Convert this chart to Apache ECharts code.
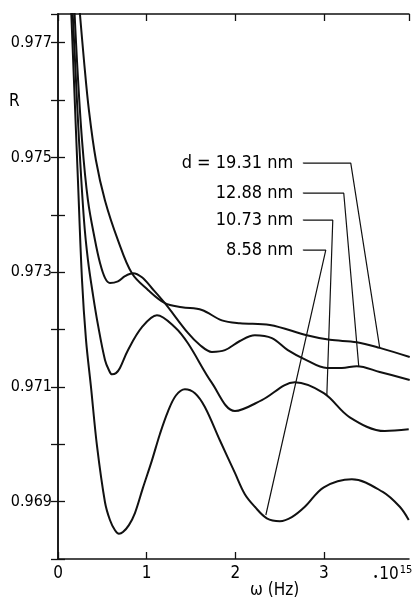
<!DOCTYPE html>
<html>
<head>
<meta charset="utf-8">
<script src="https://cdn.jsdelivr.net/npm/echarts@6/dist/echarts.min.js"></script>
<style>
html,body{margin:0;padding:0;background:#fff;}
#c{width:415px;height:603px;}
</style>
</head>
<body>
<div id="c"></div>
<script>
// ---- data (ω in 10^15 Hz, reflectance R) ----
var omega_858 = [0.135,0.180,0.225,0.271,0.316,0.372,0.440,0.530,0.586,0.643,0.688,0.733,0.800,0.868,0.958,1.060,1.150,1.240,1.330,1.432,1.545,1.657,1.826,1.996,2.108,2.221,2.356,2.503,2.638,2.785,2.999,3.315,3.664,3.856,3.957];
var r_858     = [0.97809,0.97634,0.97460,0.97286,0.97182,0.97100,0.96997,0.96899,0.96868,0.96850,0.96844,0.96847,0.96859,0.96880,0.96924,0.96972,0.97018,0.97057,0.97085,0.97096,0.97089,0.97065,0.97007,0.96950,0.96913,0.96891,0.96871,0.96866,0.96873,0.96891,0.96925,0.96939,0.96917,0.96891,0.96868];

var omega_1073 = [0.147,0.192,0.237,0.293,0.338,0.395,0.451,0.530,0.575,0.609,0.654,0.699,0.789,0.947,1.116,1.319,1.466,1.736,1.996,2.300,2.672,2.999,3.292,3.687,3.957];
var r_1073     = [0.97809,0.97669,0.97530,0.97391,0.97321,0.97260,0.97208,0.97147,0.97129,0.97122,0.97124,0.97133,0.97164,0.97204,0.97225,0.97204,0.97176,0.97107,0.97058,0.97077,0.97108,0.97089,0.97047,0.97023,0.97026];

var omega_1288 = [0.169,0.214,0.271,0.338,0.417,0.474,0.530,0.586,0.676,0.755,0.846,0.947,1.060,1.206,1.466,1.601,1.736,1.883,2.052,2.221,2.413,2.593,2.785,3.033,3.202,3.371,3.630,3.968];
var r_1288     = [0.97809,0.97669,0.97530,0.97425,0.97356,0.97316,0.97290,0.97281,0.97284,0.97293,0.97298,0.97291,0.97272,0.97246,0.97194,0.97173,0.97161,0.97164,0.97180,0.97190,0.97185,0.97164,0.97148,0.97133,0.97133,0.97136,0.97126,0.97112];

var omega_1931 = [0.214,0.248,0.293,0.349,0.428,0.530,0.676,0.834,1.015,1.206,1.398,1.623,1.849,2.052,2.390,2.807,3.067,3.371,3.630,3.968];
var r_1931     = [0.97809,0.97749,0.97669,0.97582,0.97495,0.97425,0.97356,0.97298,0.97269,0.97246,0.97239,0.97234,0.97216,0.97211,0.97208,0.97190,0.97182,0.97178,0.97168,0.97152];

// leader lines: label anchor -> corner -> point on curve
var labels = ['d = 19.31 nm','12.88 nm','10.73 nm','8.58 nm'];
var leader_1931_x = [2.762,3.303,3.630], leader_1931_r = [0.974899,0.974899,0.971676];
var leader_1288_x = [2.762,3.224,3.393], leader_1288_r = [0.974376,0.974376,0.971362];
var leader_1073_x = [2.762,3.100,3.033], leader_1073_r = [0.973906,0.973906,0.970857];
var leader_858_x  = [2.762,3.021,2.345], leader_858_r  = [0.973383,0.973383,0.968767];

var xTicks = [0,1,2,3];
var yTickLabels = [0.969,0.971,0.973,0.975,0.977];

function zip(a,b){ return a.map(function(v,i){ return [v,b[i]]; }); }

var FONT = "'Liberation Sans Narrow','DejaVu Sans Condensed','Noto Sans',sans-serif";
var INK = '#000';

function curve(x,r){
  return {type:'line', data:zip(x,r), smooth:0.35, symbol:'none', clip:true,
    lineStyle:{color:'#111',width:2}, z:3};
}
function leader(x,r){
  return {type:'line', data:zip(x,r), smooth:false, symbol:'none',
    lineStyle:{color:'#111',width:1.2}, z:4};
}
var leaderStarts = [
  [leader_1931_x[0], leader_1931_r[0]],
  [leader_1288_x[0], leader_1288_r[0]],
  [leader_1073_x[0], leader_1073_r[0]],
  [leader_858_x[0],  leader_858_r[0]]
];

var chart = echarts.init(document.getElementById('c'), null, {renderer:'canvas'});
var axisLine = {show:true, lineStyle:{color:'#111',width:1.5}};
var option = {
  animation:false,
  backgroundColor:'#fff',
  grid:{left:58,right:6,top:14,bottom:44,containLabel:false},
  xAxis:[{
    type:'value', min:0, max:3.96, interval:1, position:'bottom',
    axisLine:axisLine, splitLine:{show:false},
    axisTick:{show:true, inside:true, length:7, lineStyle:{color:'#111',width:1.3}},
    axisLabel:{show:true, margin:6, color:INK, fontFamily:FONT, fontSize:17, showMaxLabel:false,
      formatter:function(v){ return xTicks.indexOf(Math.round(v*100)/100)>=0 ? String(v) : ''; }}
  },{
    type:'value', min:0, max:3.96, interval:1, position:'top',
    axisLine:axisLine, splitLine:{show:false},
    axisTick:{show:true, inside:true, length:7, lineStyle:{color:'#111',width:1.3}},
    axisLabel:{show:false}
  }],
  yAxis:[{
    type:'value', min:0.968, max:0.9775, interval:0.001, position:'left',
    axisLine:axisLine, splitLine:{show:false},
    axisTick:{show:true, inside:true, length:7, lineStyle:{color:'#111',width:1.3}},
    axisLabel:{show:true, margin:6, color:INK, fontFamily:FONT, fontSize:16, showMaxLabel:false,
      formatter:function(v){
        var k = Math.round(v*1000)/1000;
        for(var i=0;i<yTickLabels.length;i++){ if(Math.abs(yTickLabels[i]-v)<1e-7) return k.toFixed(3); }
        return '';
      }}
  },{
    type:'value', min:0.968, max:0.9775, interval:0.001, position:'right',
    axisLine:axisLine, splitLine:{show:false},
    axisTick:{show:true, inside:true, length:7, lineStyle:{color:'#111',width:1.3}},
    axisLabel:{show:false}
  }],
  graphic:[
    {type:'text', left:9, top:93, style:{text:'R', fill:INK, font:'17px '+FONT}},
    {type:'text', left:250, top:582, style:{text:'ω (Hz)', fill:INK, font:'17px '+FONT}},
    {type:'text', left:373, top:565, style:{
      text:'{a|•}{b|10}{c|15}', fill:INK,
      rich:{
        a:{fontSize:10, fontFamily:FONT, fill:INK, padding:[4,1,0,0]},
        b:{fontSize:17, fontFamily:FONT, fill:INK},
        c:{fontSize:11, fontFamily:FONT, fill:INK, padding:[0,0,9,1]}
      }}}
  ],
  series:[
    curve(omega_858, r_858),
    curve(omega_1073, r_1073),
    curve(omega_1288, r_1288),
    curve(omega_1931, r_1931),
    leader(leader_1931_x, leader_1931_r),
    leader(leader_1288_x, leader_1288_r),
    leader(leader_1073_x, leader_1073_r),
    leader(leader_858_x,  leader_858_r),
    {type:'scatter', data:leaderStarts, symbol:'circle', symbolSize:1,
      itemStyle:{color:'#fff', opacity:1}, z:5, silent:true,
      label:{show:true, position:'left', distance:9, color:'#000', opacity:1,
        fontFamily:FONT, fontSize:18, textBorderWidth:0,
        formatter:function(p){ return labels[p.dataIndex]; }},
      emphasis:{disabled:true}}
  ]
};
chart.setOption(option);
</script>
</body>
</html>
